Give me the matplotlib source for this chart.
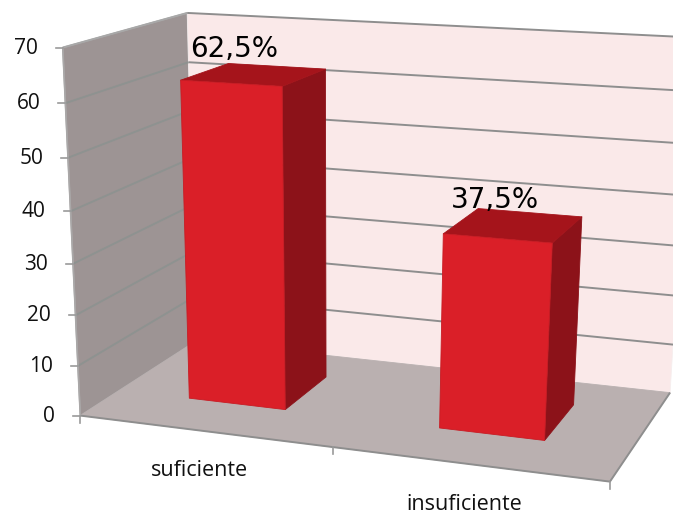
import numpy as np
import matplotlib
matplotlib.use("Agg")
import matplotlib.pyplot as plt
from matplotlib.patches import Polygon

categories = ["suficiente", "insuficiente"]
values = [62.5, 37.5]
value_labels = ["62,5%", "37,5%"]
value_ticks = [0, 10, 20, 30, 40, 50, 60, 70]
axis_max = 70

# Camera calibration: box corners (across, depth, height) and where they land on the canvas
box_corners = [(0, 0, 0), (0, 0, 1), (0, 1, 1), (0, 1, 0), (1, 1, 1), (1, 1, 0), (1, 0, 0)]
canvas_corners = [(80, 413), (63, 48), (187, 12), (196, 344), (692, 38), (670, 390), (610, 484)]

# Bar footprint, as fractions of the floor
bar_width = 0.197
bar_shift = -0.005
depth_front, depth_back = 0.318, 0.735


def fit_camera(world, image):
    rows, rhs = [], []
    for (a, b, c), (x, y) in zip(world, image):
        rows.append([a, b, c, 1, 0, 0, 0, 0, -a * x, -b * x, -c * x])
        rows.append([0, 0, 0, 0, a, b, c, 1, -a * y, -b * y, -c * y])
        rhs += [x, y]
    sol = np.linalg.lstsq(np.array(rows, float), np.array(rhs, float), rcond=None)[0]
    return np.append(sol, 1).reshape(3, 4)


camera = fit_camera(box_corners, canvas_corners)


def project(u, d, value):
    p = camera @ np.array([u, d, value / axis_max, 1.0])
    return p[0] / p[2], p[1] / p[2]


fig = plt.figure(figsize=(6.73, 5.14), dpi=100)
ax = fig.add_axes([0, 0, 1, 1])
ax.set_xlim(0, 673)
ax.set_ylim(514, 0)
ax.axis("off")


def face(points, color, edge=None, lw=0.6, z=1):
    ax.add_patch(Polygon([project(*p) for p in points], closed=True, facecolor=color,
                         edgecolor=edge or color, linewidth=lw, zorder=z, joinstyle="round"))


def line(points, color="#8e8e8e", lw=1.4, z=2):
    xy = np.array([project(*p) for p in points])
    ax.plot(xy[:, 0], xy[:, 1], color=color, lw=lw, zorder=z, solid_capstyle="butt")


top = axis_max
# Walls and floor
face([(0, 0, 0), (0, 0, top), (0, 1, top), (0, 1, 0)], "#9d9494", "#aaa8a8", 1.0)
face([(0, 1, 0), (0, 1, top), (1, 1, top), (1, 1, 0)], "#fae9e9", "#f6eeee", 0.6)
face([(0, 0, 0), (1, 0, 0), (1, 1, 0), (0, 1, 0)], "#bab0b0", "#bab0b0", 0.6)

# Gridlines run along the side wall and then the back wall
for v in value_ticks[1:]:
    side = "#a8a8a8" if v == top else "#8e9290"
    line([(0, 0, v), (0, 1, v)], side)
    line([(0, 1, v), (1, 1, v)])
line([(0, 0, 0), (1, 0, 0), (1, 1, 0)], "#8e8e8e", 1.4)

# Value axis with its ticks
line([(0, 0, 0), (0, 0, top)], "#aaa8a8", 1.2)
for v in value_ticks:
    x, y = project(0, 0, v)
    ax.plot([x - 7, x], [y, y], color="#9a9a9a", lw=1.2, zorder=2)
    ax.text(x - 25, y + 0.5, str(v), ha="right", va="center", fontsize=15,
            family="Open Sans", color="#111111")

# Category axis ticks
for u in [0, 0.5, 1]:
    x, y = project(u, 0, 0)
    ax.plot([x, x], [y, y + 7], color="#9a9a9a", lw=1.2, zorder=2)

# Bars
label_offsets = [(-20, -26), (-19, -25)]
label_positions = [(199, 470), (464, 505)]
for i, (name, val, text) in enumerate(zip(categories, values, value_labels)):
    centre = (i + 0.5) / len(categories) + bar_shift
    u0, u1 = centre - bar_width / 2, centre + bar_width / 2
    d0, d1 = depth_front, depth_back
    face([(u1, d0, 0), (u1, d1, 0), (u1, d1, val), (u1, d0, val)], "#8c1219", z=3)
    face([(u0, d0, val), (u1, d0, val), (u1, d1, val), (u0, d1, val)], "#a5141b", z=3)
    face([(u0, d0, 0), (u1, d0, 0), (u1, d0, val), (u0, d0, val)], "#da1f28", "#c81c24", z=4)

    cx, cy = project((u0 + u1) / 2, (d0 + d1) / 2, val)
    ax.text(cx + label_offsets[i][0], cy + label_offsets[i][1], text, ha="center", va="center",
            fontsize=20, family="DejaVu Sans", color="black", zorder=5)
    ax.text(*label_positions[i], name, ha="center", va="center", fontsize=15.5,
            family="Open Sans", color="#111111")

fig.savefig("out.png", dpi=100)
